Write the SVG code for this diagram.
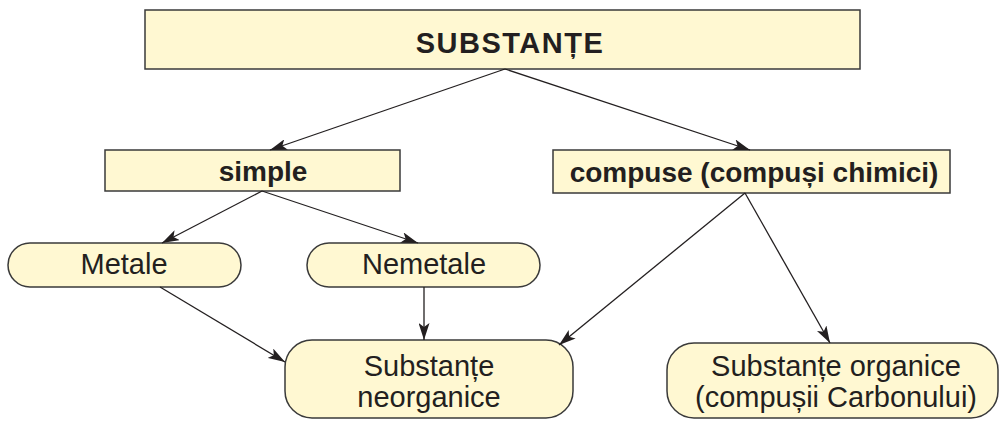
<svg xmlns="http://www.w3.org/2000/svg" width="1000" height="425" viewBox="0 0 1000 425">
<style>
.box{fill:#FFF8D2;stroke:#3a3a3a;stroke-width:1.5}
.t{font-family:"Liberation Sans",Arial,sans-serif;font-size:29px;fill:#231f20;text-anchor:middle}
.b{font-weight:bold;font-size:28px}
.c{stroke:#231f20;stroke-width:1.3;fill:none;marker-end:url(#ah)}
</style>
<defs>
<marker id="ah" viewBox="0 0 17 11" refX="17" refY="5.5" markerWidth="17" markerHeight="11" markerUnits="userSpaceOnUse" orient="auto">
<path d="M0,0 L17,5.5 L0,11 L4,5.5 z" fill="#231f20"/>
</marker>
</defs>
<g id="substante">
<rect class="box" x="145" y="10" width="715" height="59"/>
<text class="t" x="510" y="53" font-size="28" font-weight="bold" letter-spacing="1.5">SUBSTANȚE</text>
</g>
<g id="simple">
<rect class="box" x="105" y="150" width="295" height="41"/>
<text class="t b" x="263" y="181">simple</text>
</g>
<g id="compuse">
<rect class="box" x="553" y="150" width="397" height="43"/>
<text class="t b" x="754" y="182">compuse (compuși chimici)</text>
</g>
<g id="metale">
<rect class="box" x="8" y="243" width="233" height="44" rx="22"/>
<text class="t" x="124" y="274">Metale</text>
</g>
<g id="nemetale">
<rect class="box" x="307" y="243" width="233" height="44" rx="22"/>
<text class="t" x="424" y="274">Nemetale</text>
</g>
<g id="neorganice">
<rect class="box" x="285" y="340" width="288" height="78" rx="27"/>
<text class="t" x="429" y="376">Substanțe</text>
<text class="t" x="429" y="407">neorganice</text>
</g>
<g id="organice">
<rect class="box" x="667" y="343" width="331" height="75" rx="27"/>
<text class="t" x="836" y="376">Substanțe organice</text>
<text class="t" x="836" y="407">(compușii Carbonului)</text>
</g>
<g id="connectors">
<line class="c" x1="505" y1="69" x2="270" y2="150"/>
<line class="c" x1="505" y1="69" x2="750" y2="150"/>
<line class="c" x1="262" y1="191" x2="162" y2="243"/>
<line class="c" x1="262" y1="191" x2="418" y2="243"/>
<line class="c" x1="160" y1="287" x2="285" y2="362"/>
<line class="c" x1="424" y1="287" x2="424" y2="340"/>
<line class="c" x1="745" y1="193" x2="559" y2="345"/>
<line class="c" x1="745" y1="193" x2="830" y2="343"/>
</g>
</svg>
